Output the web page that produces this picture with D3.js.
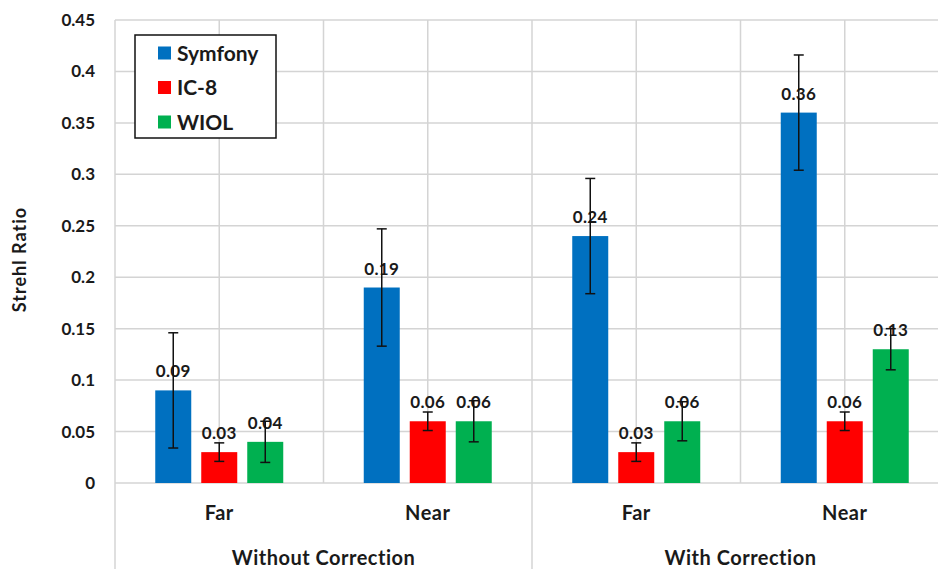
<!DOCTYPE html>
<html><head><meta charset="utf-8">
<script src="https://cdn.jsdelivr.net/npm/d3@7"></script>
<style>body{margin:0;background:#fff}svg{display:block}text{font-family:Lato,"Open Sans",sans-serif;font-weight:bold;fill:#1a1a1a}</style>
</head><body><svg id="c" width="938" height="569"></svg>
<script>
const categories = ["Far", "Near", "Far", "Near"];
const groups = ["Without Correction", "With Correction"];
const series = ["Symfony", "IC-8", "WIOL"];
const colors = ["#0070C0", "#FF0000", "#00B050"];
const symfony = [0.09, 0.19, 0.24, 0.36];
const ic8 = [0.03, 0.06, 0.03, 0.06];
const wiol = [0.04, 0.06, 0.06, 0.13];
const symfonyErr = [0.056, 0.057, 0.056, 0.056];
const ic8Err = [0.009, 0.009, 0.009, 0.009];
const wiolErr = [0.02, 0.02, 0.019, 0.02];
const yTicks = [0, 0.05, 0.1, 0.15, 0.2, 0.25, 0.3, 0.35, 0.4, 0.45];

const values = [symfony, ic8, wiol];
const errs = [symfonyErr, ic8Err, wiolErr];
const svg = d3.select("#c");
const pL = 115, pR = 949, pT = 20, pB = 483;
const y = d3.scaleLinear().domain([0, 0.45]).range([pB, pT]);
const x = d3.scaleBand().domain(d3.range(categories.length)).range([pL, pR]);
const x1 = d3.scaleBand().domain(series).range([-64, 64]).paddingInner(10/46);
const grid = "#d4d4d4";

// horizontal gridlines
svg.append("g").selectAll("line").data(yTicks).join("line")
  .attr("x1", pL).attr("x2", pR).attr("y1", d => y(d)).attr("y2", d => y(d))
  .attr("stroke", grid).attr("stroke-width", 1.5);
// vertical gridlines at band edges and centers
const vlines = [];
categories.forEach((c, i) => { vlines.push({x: x(i), edge: true, i}); vlines.push({x: x(i) + x.bandwidth()/2, edge: false, i}); });
svg.append("g").selectAll("line").data(vlines).join("line")
  .attr("x1", d => d.x).attr("x2", d => d.x)
  .attr("y1", pT).attr("y2", d => (d.edge && d.i % 2 === 0) ? 569 : pB)
  .attr("stroke", grid).attr("stroke-width", 1.5);

// y axis labels
const ya = svg.append("g").attr("transform", `translate(${pL},0)`)
  .call(d3.axisLeft(y).tickValues(yTicks).tickSize(0).tickPadding(20).tickFormat(d => d === 0 ? "0" : String(+d.toFixed(2))));
ya.select(".domain").remove();
ya.selectAll("text").style("font-size", "17px").style("font-family", "Lato,sans-serif").style("font-weight", "bold").attr("fill", "#1a1a1a");

svg.append("text").attr("transform", `translate(26,${(pT + pB)/2 + 8}) rotate(-90)`)
  .attr("text-anchor", "middle").style("font-size", "18px").style("letter-spacing", "1px").text("Strehl Ratio");

// bars
series.forEach((s, si) => {
  const g = svg.append("g");
  const data = values[si].map((v, i) => ({v, e: errs[si][i], i}));
  g.selectAll("rect").data(data).join("rect")
    .attr("x", d => x(d.i) + x.bandwidth()/2 + x1(s)).attr("width", x1.bandwidth())
    .attr("y", d => y(d.v)).attr("height", d => pB - y(d.v)).attr("fill", colors[si]);
  g.selectAll("text").data(data).join("text")
    .attr("x", d => x(d.i) + x.bandwidth()/2 + x1(s) + x1.bandwidth()/2)
    .attr("y", d => y(d.v) - 13).attr("text-anchor", "middle").style("font-size", "17px").style("letter-spacing", "0.3px")
    .text(d => d.v.toFixed(2));
  const eb = g.selectAll("g.eb").data(data).join("g").attr("class", "eb")
    .attr("transform", d => `translate(${x(d.i) + x.bandwidth()/2 + x1(s) + x1.bandwidth()/2},0)`);
  eb.append("line").attr("y1", d => y(d.v + d.e)).attr("y2", d => y(d.v - d.e)).attr("stroke", "#111").attr("stroke-width", 1.5);
  eb.append("line").attr("x1", -5).attr("x2", 5).attr("y1", d => y(d.v + d.e)).attr("y2", d => y(d.v + d.e)).attr("stroke", "#111").attr("stroke-width", 1.5);
  eb.append("line").attr("x1", -5).attr("x2", 5).attr("y1", d => y(d.v - d.e)).attr("y2", d => y(d.v - d.e)).attr("stroke", "#111").attr("stroke-width", 1.5);
});

// category labels
svg.append("g").selectAll("text").data(categories).join("text")
  .attr("x", (d, i) => x(i) + x.bandwidth()/2).attr("y", 520).attr("text-anchor", "middle")
  .style("font-size", "20px").style("letter-spacing", "0.5px").text(d => d);
svg.append("g").selectAll("text").data(groups).join("text")
  .attr("x", (d, i) => (x(i*2) + x(i*2+1) + x.bandwidth())/2).attr("y", 565).attr("text-anchor", "middle")
  .style("font-size", "20px").style("letter-spacing", "0.5px").text(d => d);

// legend
const lg = svg.append("g");
lg.append("rect").attr("x", 135).attr("y", 35).attr("width", 141).attr("height", 103)
  .attr("fill", "#fff").attr("stroke", "#111").attr("stroke-width", 1.5);
const li = lg.selectAll("g").data(series).join("g").attr("transform", (d, i) => `translate(158,${53 + i*34.5})`);
li.append("rect").attr("x", 0).attr("y", -6.5).attr("width", 13).attr("height", 13).attr("fill", (d, i) => colors[i]);
li.append("text").attr("x", 19).attr("y", 7.5).style("font-size", "21px").text(d => d);
</script></body></html>
